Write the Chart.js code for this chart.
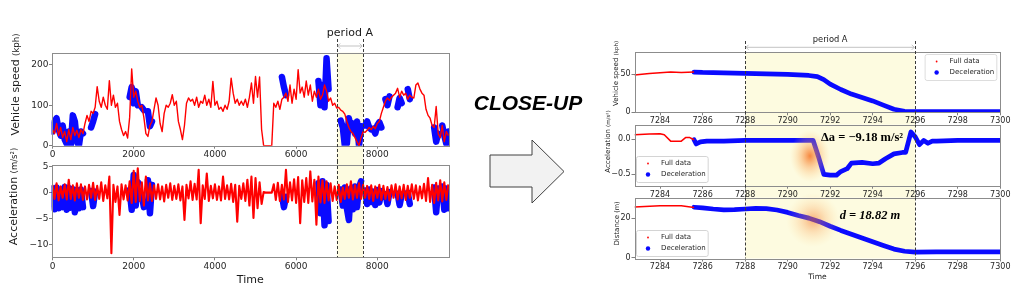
<!DOCTYPE html>
<html>
<head>
<meta charset="utf-8">
<script src="https://cdn.jsdelivr.net/npm/chart.js@4.4.0/dist/chart.umd.min.js"></script>
<style>
  html, body { margin: 0; padding: 0; background: #fff; }
  #page { position: relative; width: 1017px; height: 290px; overflow: hidden; background: #fff; }
  #page canvas { position: absolute; top: 0; }
  #closeup {
    position: absolute; left: 428px; top: 91px; width: 200px; text-align: center;
    font: italic bold 21px/24px "Liberation Sans", Arial, sans-serif; color: #000;
  }
  #arrow { position: absolute; left: 0; top: 0; }
</style>
</head>
<body>
<div id="page">
  <canvas id="ltChart" width="460" height="290" style="left:0"></canvas>
  <canvas id="lbChart" width="460" height="290" style="left:0"></canvas>
  <div id="closeup">CLOSE-UP</div>
  <svg id="arrow" width="1017" height="290">
    <polygon points="490,155 532,155 532,140 564,171.5 532,203 532,187 490,187"
             fill="#f2f2f2" stroke="#404040" stroke-width="1"/>
  </svg>
  <canvas id="rtChart" width="427" height="290" style="left:590px"></canvas>
  <canvas id="rmChart" width="427" height="290" style="left:590px"></canvas>
  <canvas id="rbChart" width="427" height="290" style="left:590px"></canvas>
</div>

<script>
const leftStep = 50;
const leftSpeedRed = [
  40, 30, 55, 25, 45, 20, 35, 10, 40, 15, 45, 25, 38, 20, 40, 30, 55, 75, 60, 85,
  80, 95, 146, 110, 95, 120, 100, 90, 161, 100, 125, 95, 105, 60, 40, 25, 35, 19, 70, 190,
  120, 135, 110, 95, 100, 70, 30, 23, 50, 60, 90, 118, 100, 55, 35, 80, 100, 95, 105, 126,
  100, 110, 60, 40, 15, 50, 105, 118, 110, 115, 100, 120, 95, 110, 105, 125, 100, 115, 95, 159,
  100, 110, 90, 95, 85, 100, 90, 110, 167, 130, 105, 115, 100, 110, 100, 115, 95, 120, 155, 105,
  171, 120, 170, 40, 0, 0, 0, 0, 0, 105, 95, 110, 90, 115, 120, 130, 110, 150, 105, 140,
  115, 188, 130, 145, 120, 160, 125, 150, 110, 135, 120, 140, 115, 125, 150, 135, 110, 118, 100, 105,
  93, 95, 88, 85, 78, 60, 45, 35, 30, 20, 10, 0, 20, 35, 33, 38, 45, 40, 48, 42,
  55, 60, 80, 95, 110, 118, 112, 120, 125, 130, 142, 120, 135, 125, 130, 115, 125, 120, 118, 150,
  155, 140, 130, 125, 90, 75, 68, 50, 45, 97, 30, 20, 50, 10, 35, 25
];
const leftAccRed = [
  1.5, -1.2, 1.8, -1.5, 1.2, -1.0, 1.6, -1.3, 2.5, -1.2, 1.4, -1.5, 1.8, -1.0, 1.6, -1.4, 1.2, -1.3, 1.5, -1.0,
  1.9, -1.4, 1.3, -1.2, 2.0, -1.6, 1.4, -1.1, 3.1, -11.7, 1.5, -1.8, 1.2, -4.3, 1.6, -1.3, 1.4, -1.5, 2.2, -2.0,
  4.2, -1.8, 4.7, -1.6, 2.0, -2.5, 3.1, -1.5, 1.8, -1.6, 1.4, -1.2, 1.6, -1.3, 1.2, -1.7, 1.5, -1.0, 1.8, -1.4,
  1.3, -1.2, 1.6, -1.5, 1.2, -5.3, 1.5, -1.1, 2.2, -1.4, 1.7, -1.3, 4.4, -5.9, 1.4, -1.2, 3.7, -1.6, 1.3, -1.1,
  1.6, -1.4, 1.2, -1.5, 3.1, -1.2, 1.4, -1.3, 1.7, -1.8, 1.5, -5.6, 1.3, -1.2, 1.8, -1.6, 2.5, -2.5, 3.1, -4.9,
  2.8, -3.0, 2.0, -2.2, 0.1, 0, 0, 0, 0, 1.6, -1.4, 1.9, -1.6, 1.5, -1.3, 4.4, -1.8, 2.0, -1.5, 2.6,
  -2.0, 3.0, -5.9, 2.4, -1.8, 2.8, -2.0, 4.1, -1.7, 2.5, -6.2, 3.1, -1.9, 2.4, -2.0, 2.2, -1.5, 1.8, -1.6, 1.2,
  -1.4, 1.5, -1.8, 1.0, -1.2, 1.6, -1.0, 2.2, -1.3, 1.4, -1.0, 1.8, -1.2, 1.5, -1.0, 1.3, -1.2, 1.4, -1.6, 1.2,
  -1.0, 1.5, -1.4, 1.3, -1.2, 1.1, -1.5, 1.4, -1.0, 1.6, -1.3, 1.2, -1.1, 1.5, -1.4, 1.3, -1.0, 1.6, -1.2, 1.4,
  -1.5, 1.2, -1.1, 1.7, -1.6, 2.8, -1.8, 1.5, -2.0, 1.9, -1.5, 2.4, -1.7, 2.0, -1.4, 1.6
];
const leftTime = leftSpeedRed.map((_, i) => i * leftStep);

// deceleration events (null = gap between events)
const leftBlueTime = [
  0, 50, 100, 150, 200, 250, 300, 350, 400, 450, 500, 550, 600, 650, 700, 750, 800,
  950, 1000, 1050, 1100,
  1900, 1950, 2000, 2050, 2100, 2150,
  2200, 2250, 2300,
  2350, 2400, 2450, 2500,
  5650, 5700, 5750, 5800,
  6550, 6600, 6650, 6700, 6750, 6800, 6850,
  7100, 7150, 7200, 7250, 7300, 7350, 7400, 7450, 7500, 7550, 7600, 7650,
  7700, 7750, 7800, 7850, 7900, 7950, 8000, 8050, 8100, 8150,
  8200, 8250, 8300, 8350,
  8500, 8550, 8600, 8650,
  8750, 8800, 8850,
  9400, 9450, 9500, 9550,
  9600, 9650, 9700, 9750
];
const leftSpeedBlue = [
  35, 60, 68, 40, 25, 50, 15, 5, 35, 0, 75, 60, 10, 0, 35, 30, null,
  45, 60, 78, null,
  120, 145, 105, 135, 100, null,
  95, 88, null,
  85, 48, 60, null,
  170, 145, 125, null,
  160, 100, 150, 95, 216, 140, null,
  62, 45, 0, 5, 68, 40, 55, 30, 60, 0, 48, null,
  50, 60, 45, 40, 42, 30, 50, 58, 45, null,
  115, 100, 122, null,
  95, 118, 105, null,
  140, 115, null,
  45, 10, 30, null,
  50, 25, 5, 35
];
const leftAccBlue = [
  0.8, -3.2, 1.0, -3.0, 0.6, -2.8, 1.1, -3.3, 0.9, -2.9, 0.7, -3.8, 0.5, -3.0, 0.6, -2.8, null,
  0.3, -2.6, 0.2, null,
  0.5, -3.3, 3.4, -2.5, 2.0, null,
  -0.5, -2.8, null,
  2.4, -4.0, 1.5, null,
  -0.5, -2.8, -0.8, null,
  1.8, -4.0, 2.2, -6.3, 1.5, -5.5, null,
  0.6, -2.5, 1.0, -3.0, -5.3, 0.8, -3.2, 1.2, -2.8, 1.0, 2.2, null,
  0.4, -2.2, 0.6, -1.8, 0.2, -2.4, 0.5, -1.9, 0.3, null,
  -0.3, -2.2, 0.1, null,
  -0.2, -2.4, -0.4, null,
  0.0, -2.2, null,
  1.0, -3.8, 0.8, null,
  1.2, -3.3, 0.8, -3.0
];
const leftPeriod = [7000, 7650];
const leftTimeTicks = [0, 2000, 4000, 6000, 8000];
const leftSpeedTicks = [0, 100, 200];
const leftAccTicks = [-10, -5, 0, 5];

// ---- right panels: close-up of period A ----
const rightPeriod = [7288, 7296];
const rightTimeTicks = [7284, 7286, 7288, 7290, 7292, 7294, 7296, 7298, 7300];
const rightSpeedTicks = [0, 50];
const rightAccTicks = [-0.5, 0.0];
const rightDistTicks = [0, 20];

const speedTimeRed = [7282.8, 7283.5, 7284, 7284.5, 7285, 7285.6];
const speedRed = [49, 51, 52, 53, 52.5, 53];
const speedTimeBlue = [7285.6, 7286, 7287, 7288, 7289, 7290, 7291, 7291.4, 7291.7, 7292, 7292.5,
  7293, 7293.5, 7294, 7294.5, 7295, 7295.5, 7296, 7297, 7298, 7299, 7300];
const speedBlue = [53, 52.5, 52, 51.3, 50.6, 50, 48.5, 47, 43, 37, 30,
  24, 19.5, 15, 9.5, 4, 1.3, 0.8, 0.8, 0.8, 0.8, 0.8];

const accTimeRed = [7282.8, 7283.5, 7284, 7284.2, 7284.5, 7285, 7285.2, 7285.4, 7285.6];
const accRed = [0.06, 0.07, 0.075, 0.06, -0.03, -0.03, 0.02, 0.02, -0.01];
const accTimeBlue = [7285.6, 7285.7, 7285.9, 7286.2, 7287, 7288, 7289, 7290, 7291, 7291.2, 7291.45,
  7291.7, 7292, 7292.3, 7292.5, 7292.8, 7293, 7293.5, 7294, 7294.3, 7294.6, 7295, 7295.4, 7295.55,
  7295.8, 7296, 7296.2, 7296.4, 7296.6, 7296.8, 7297, 7298, 7299, 7300];
const accBlue = [-0.01, -0.07, -0.04, -0.03, -0.03, -0.02, -0.02, -0.02, -0.02, -0.02, -0.25,
  -0.5, -0.51, -0.51, -0.46, -0.42, -0.34, -0.33, -0.35, -0.34, -0.28, -0.21, -0.19, -0.19,
  0.1, 0.03, -0.08, -0.02, -0.06, -0.03, -0.03, -0.02, -0.02, -0.02];

const distTimeRed = [7282.8, 7284, 7285, 7285.6];
const distRed = [25.6, 26.3, 26.2, 25.4];
const distTimeBlue = [7285.6, 7286, 7286.5, 7287, 7287.5, 7288, 7288.5, 7289, 7289.5, 7290, 7290.5,
  7291, 7291.5, 7292, 7292.5, 7293, 7293.5, 7294, 7294.5, 7295, 7295.5, 7296, 7297, 7300];
const distBlue = [25.5, 25.2, 24.6, 24.2, 24.3, 24.6, 24.9, 24.8, 24.1, 22.9, 21.3,
  20, 18.2, 15.9, 13.8, 11.9, 10, 8.1, 6.2, 4.4, 3.3, 2.9, 3, 3];

const legendLabels = ['Full data', 'Deceleration'];
const accNote = 'Δa = −9.18 m/s²';
const distNote = 'd = 18.82 m';

// ---- styles ----
const RED = '#ff0000';
const BLUE = '#0a0aff';
const BAND = '#fdfbe0';
const FONT = '"DejaVu Sans", sans-serif';
Chart.defaults.font.family = FONT;
Chart.defaults.color = '#262626';

const pts = (xs, ys) => xs.map((x, i) => ({ x, y: ys[i] }));
const fmt = (dec) => (v) => (v < 0 ? '−' : '') + Math.abs(v).toFixed(dec);

// draws shading, dashed period lines, frame, legend, notes and the y title
const decorPlugin = {
  id: 'decor',
  beforeDraw(chart, args, o) {
    const { ctx, scales: { x } } = chart;
    const x0 = x.getPixelForValue(o.period[0]);
    const x1 = x.getPixelForValue(o.period[1]);
    ctx.save();
    ctx.fillStyle = BAND;
    ctx.fillRect(x0, o.bandTop, x1 - x0, o.bandBottom - o.bandTop);
    ctx.restore();
  },
  afterDatasetsDraw(chart, args, o) {
    const { ctx, chartArea: a, scales: { x, y } } = chart;
    const x0 = x.getPixelForValue(o.period[0]);
    const x1 = x.getPixelForValue(o.period[1]);
    ctx.save();

    (o.glows || []).forEach(g => {
      const cx = x.getPixelForValue(g.x), cy = y.getPixelForValue(g.y);
      ctx.save();
      ctx.translate(cx, cy);
      ctx.scale(1, g.sy || 1);
      const grad = ctx.createRadialGradient(0, 0, 0, 0, 0, g.r);
      grad.addColorStop(0, 'rgba(245,115,35,' + g.a + ')');
      grad.addColorStop(0.45, 'rgba(250,155,75,' + (g.a * 0.5) + ')');
      grad.addColorStop(1, 'rgba(255,210,130,0)');
      ctx.fillStyle = grad;
      ctx.fillRect(-g.r, -g.r, g.r * 2, g.r * 2);
      ctx.restore();
    });

    ctx.strokeStyle = '#8c8c8c';
    ctx.lineWidth = 1;
    ctx.strokeRect(Math.round(a.left) + 0.5, Math.round(a.top) + 0.5,
      Math.round(a.right) - Math.round(a.left), Math.round(a.bottom) - Math.round(a.top));

    ctx.strokeStyle = '#3a3a3a';
    ctx.setLineDash([3, 2]);
    [x0, x1].forEach(px => {
      ctx.beginPath();
      ctx.moveTo(Math.round(px) + 0.5, o.dashTop);
      ctx.lineTo(Math.round(px) + 0.5, o.bandBottom);
      ctx.stroke();
    });
    ctx.setLineDash([]);

    if (o.label) {
      ctx.fillStyle = '#1a1a1a';
      ctx.font = o.label.size + 'px ' + FONT;
      ctx.textAlign = 'center';
      ctx.textBaseline = 'middle';
      ctx.fillText('period A', (x0 + x1) / 2, o.label.y);
      const ay = o.label.arrowY, h = 2.5;
      ctx.strokeStyle = '#b4b4b4';
      ctx.lineWidth = 0.8;
      ctx.beginPath();
      ctx.moveTo(x0 + 1, ay); ctx.lineTo(x1 - 1, ay);
      ctx.moveTo(x0 + 1 + h, ay - h); ctx.lineTo(x0 + 1, ay); ctx.lineTo(x0 + 1 + h, ay + h);
      ctx.moveTo(x1 - 1 - h, ay - h); ctx.lineTo(x1 - 1, ay); ctx.lineTo(x1 - 1 - h, ay + h);
      ctx.stroke();
    }

    (o.notes || []).forEach(n => {
      ctx.fillStyle = '#000';
      ctx.font = n.font;
      ctx.textAlign = 'center';
      ctx.textBaseline = 'middle';
      ctx.fillText(n.text, x.getPixelForValue(n.x), y.getPixelForValue(n.y));
    });

    if (o.legend) {
      const L = o.legend;
      ctx.font = L.size + 'px ' + FONT;
      const tw = Math.max(...legendLabels.map(t => ctx.measureText(t).width));
      const w = tw + 27, h = 26;
      const bx = L.corner === 'tr' ? a.right - L.dx - w : a.left + L.dx;
      const by = L.corner === 'tr' ? a.top + L.dy : a.bottom - L.dy - h;
      ctx.beginPath();
      ctx.roundRect(bx + 0.5, by + 0.5, w, h, 2);
      ctx.fillStyle = 'rgba(255,255,255,0.85)';
      ctx.fill();
      ctx.strokeStyle = '#d4d4d4';
      ctx.stroke();
      const rows = [by + h / 2 - 5.5, by + h / 2 + 5.5];
      const marks = [{ c: RED, r: 0.9 }, { c: BLUE, r: 2.2 }];
      rows.forEach((ry, i) => {
        ctx.fillStyle = marks[i].c;
        ctx.beginPath();
        ctx.arc(bx + 12, ry, marks[i].r, 0, Math.PI * 2);
        ctx.fill();
        ctx.fillStyle = '#262626';
        ctx.textAlign = 'left';
        ctx.textBaseline = 'middle';
        ctx.fillText(legendLabels[i], bx + 25, ry);
      });
    }
    ctx.restore();
  },
  afterDraw(chart, args, o) {
    const t = o.yTitle;
    if (!t) return;
    const { ctx, chartArea: a } = chart;
    ctx.save();
    ctx.translate(a.left - t.dx, t.cy);
    ctx.rotate(-Math.PI / 2);
    ctx.fillStyle = '#1a1a1a';
    ctx.textBaseline = 'alphabetic';
    ctx.textAlign = 'left';
    const mainFont = t.size + 'px ' + FONT, unitFont = t.unitSize + 'px ' + FONT;
    ctx.font = mainFont;
    const mw = ctx.measureText(t.text + ' ').width;
    ctx.font = unitFont;
    const uw = ctx.measureText(t.unit).width;
    const sx = -(mw + uw) / 2, base = t.size * 0.36;
    ctx.font = mainFont;
    ctx.fillText(t.text + ' ', sx, base);
    ctx.font = unitFont;
    ctx.fillText(t.unit, sx + mw, base);
    ctx.restore();
  }
};

function redSet(data, width) {
  return { data, borderColor: RED, borderWidth: width, pointRadius: 0, spanGaps: false,
    tension: 0, borderJoinStyle: 'round' };
}
function blueSet(data, width) {
  return { data, borderColor: BLUE, borderWidth: width, pointRadius: 0, spanGaps: false,
    tension: 0, borderJoinStyle: 'round', borderCapStyle: 'round' };
}

function makeChart(id, c) {
  return new Chart(document.getElementById(id), {
    type: 'line',
    data: { datasets: c.datasets },
    options: {
      responsive: false,
      animation: false,
      devicePixelRatio: 1,
      events: [],
      layout: { padding: { top: c.area.top, right: c.canvasLeft + c.canvasW - c.area.right, left: 0, bottom: 0 } },
      plugins: { legend: { display: false }, tooltip: { enabled: false }, decor: c.decor },
      scales: {
        x: {
          type: 'linear', min: c.x.min, max: c.x.max,
          afterBuildTicks: s => { s.ticks = c.x.ticks.map(v => ({ value: v })); },
          afterFit: s => { s.height = 290 - c.area.bottom; s.paddingLeft = 0; s.paddingRight = 0; },
          border: { display: false },
          grid: { drawOnChartArea: false, tickLength: c.tick.len, color: '#808080' },
          ticks: { font: { size: c.tick.size }, padding: c.tick.pad, maxRotation: 0,
            autoSkip: false, callback: v => String(v) },
          title: c.x.title || { display: false }
        },
        y: {
          min: c.y.min, max: c.y.max,
          afterBuildTicks: s => { s.ticks = c.y.ticks.map(v => ({ value: v })); },
          afterFit: s => { s.width = c.area.left - c.canvasLeft; s.paddingTop = 0; s.paddingBottom = 0; },
          border: { display: false },
          grid: { drawOnChartArea: false, tickLength: c.tick.yLen, color: '#808080' },
          ticks: { font: { size: c.tick.size }, padding: c.tick.yPad, callback: fmt(c.y.dec || 0) }
        }
      }
    },
    plugins: [decorPlugin]
  });
}

// ---- left column ----
const leftX = { min: -25, max: 9766, ticks: leftTimeTicks };
const leftTick = { size: 9, len: 3, pad: 1, yLen: 2.5, yPad: 0.5 };

makeChart('ltChart', {
  canvasLeft: 0, canvasW: 460,
  area: { left: 51.5, right: 449, top: 52.7, bottom: 145.7 },
  x: leftX, y: { min: 0, max: 230, ticks: leftSpeedTicks }, tick: leftTick,
  datasets: [redSet(pts(leftTime, leftSpeedRed), 1.4), blueSet(pts(leftBlueTime, leftSpeedBlue), 6.5)],
  decor: {
    period: leftPeriod, bandTop: 52.7, bandBottom: 161, dashTop: 39,
    label: { size: 11, y: 32.7, arrowY: 46 },
    yTitle: { text: 'Vehicle speed', unit: '(kph)', size: 11, unitSize: 8.5, dx: 36, cy: 84.5 }
  }
});

makeChart('lbChart', {
  canvasLeft: 0, canvasW: 460,
  area: { left: 51.5, right: 449, top: 164.7, bottom: 257.3 },
  x: Object.assign({}, leftX, { title: { display: true, text: 'Time', font: { size: 11 },
    color: '#1a1a1a', padding: { top: 0, bottom: 3.4 } } }),
  y: { min: -12.5, max: 5.4, ticks: leftAccTicks }, tick: leftTick,
  datasets: [redSet(pts(leftTime, leftAccRed), 2.1), blueSet(pts(leftBlueTime, leftAccBlue), 6.5)],
  decor: {
    period: leftPeriod, bandTop: 161, bandBottom: 257.3, dashTop: 161,
    yTitle: { text: 'Acceleration', unit: '(m/s²)', size: 11, unitSize: 8.5, dx: 38, cy: 196.5 }
  }
});

// ---- right column ----
const rightX = { min: 7282.8, max: 7300, ticks: rightTimeTicks };
const rightTick = { size: 8, len: 3, pad: 1, yLen: 3, yPad: 0.8 };
const rightArea = (top, bottom) => ({ left: 634.5, right: 1000.3, top, bottom });

makeChart('rtChart', {
  canvasLeft: 590, canvasW: 427,
  area: rightArea(52.3, 112.3),
  x: rightX, y: { min: 0, max: 79, ticks: rightSpeedTicks }, tick: rightTick,
  datasets: [redSet(pts(speedTimeRed, speedRed), 1.5), blueSet(pts(speedTimeBlue, speedBlue), 4.7)],
  decor: {
    period: rightPeriod, bandTop: 52.3, bandBottom: 124.5, dashTop: 41,
    label: { size: 8.3, y: 39.5, arrowY: 47.3 },
    legend: { corner: 'tr', dx: 4, dy: 1.7, size: 7 },
    yTitle: { text: 'Vehicle speed', unit: '(kph)', size: 7, unitSize: 5.5, dx: 19.5, cy: 73.5 }
  }
});

makeChart('rmChart', {
  canvasLeft: 590, canvasW: 427,
  area: rightArea(125, 185.7),
  x: rightX, y: { min: -0.66, max: 0.198, ticks: rightAccTicks, dec: 1 }, tick: rightTick,
  datasets: [redSet(pts(accTimeRed, accRed), 1.5), blueSet(pts(accTimeBlue, accBlue), 4.7)],
  decor: {
    period: rightPeriod, bandTop: 124.5, bandBottom: 197.5, dashTop: 124.5,
    legend: { corner: 'bl', dx: 1.5, dy: 3.7, size: 7 },
    glows: [{ x: 7291.05, y: -0.24, r: 20, sy: 1.3, a: 0.85 }],
    notes: [{ text: accNote, x: 7293.5, y: 0.015, font: 'bold 12.5px "Liberation Serif", serif' }],
    yTitle: { text: 'Acceleration', unit: '(m/s²)', size: 7, unitSize: 5.5, dx: 27, cy: 141.5 }
  }
});

makeChart('rbChart', {
  canvasLeft: 590, canvasW: 427,
  area: rightArea(197.7, 258.5),
  x: Object.assign({}, rightX, { title: { display: true, text: 'Time', font: { size: 7.5 },
    color: '#1a1a1a', padding: { top: 0, bottom: 8.8 } } }),
  y: { min: -0.35, max: 30.3, ticks: rightDistTicks }, tick: rightTick,
  datasets: [redSet(pts(distTimeRed, distRed), 1.5), blueSet(pts(distTimeBlue, distBlue), 4.7)],
  decor: {
    period: rightPeriod, bandTop: 197.5, bandBottom: 258.5, dashTop: 197.5,
    legend: { corner: 'bl', dx: 1.5, dy: 2.5, size: 7 },
    glows: [{ x: 7291.2, y: 19, r: 27, sy: 1, a: 0.55 }],
    notes: [{ text: distNote, x: 7293.87, y: 21.1, font: 'bold italic 12.5px "Liberation Serif", serif' }],
    yTitle: { text: 'Distance', unit: '(m)', size: 7, unitSize: 6.5, dx: 18.5, cy: 223.5 }
  }
});
</script>
</body>
</html>
